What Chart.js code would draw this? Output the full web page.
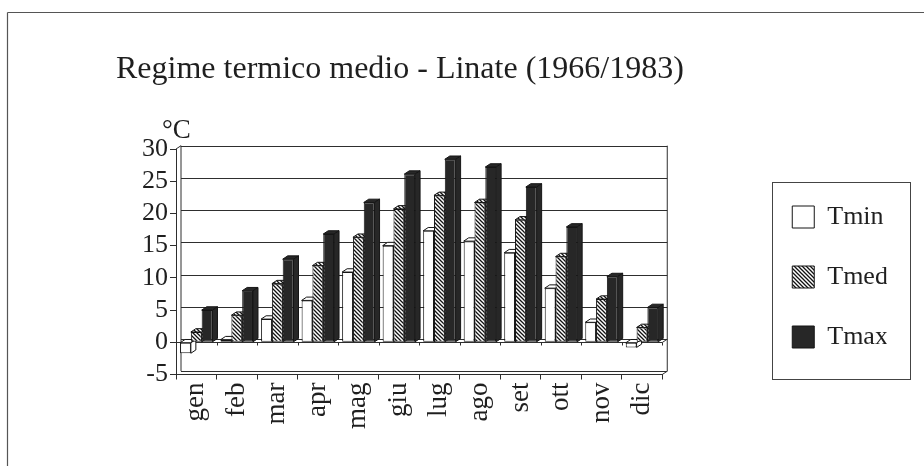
<!DOCTYPE html>
<html>
<head>
<meta charset="utf-8">
<script src="https://cdn.jsdelivr.net/npm/chart.js@4.4.1/dist/chart.umd.min.js"></script>
<style>
  html, body { margin: 0; padding: 0; background: #fff; }
  canvas { display: block; }
</style>
</head>
<body>
<canvas id="c" width="924" height="466"></canvas>
<script>
// Monthly mean temperatures, Linate 1966-1983 (°C)
const months = ['gen', 'feb', 'mar', 'apr', 'mag', 'giu', 'lug', 'ago', 'set', 'ott', 'nov', 'dic'];
const tmin = [-1.7, 0.4, 3.6, 6.5, 10.9, 15.0, 17.3, 15.7, 13.9, 8.4, 3.1, -0.8];
const tmed = [1.6, 4.2, 9.1, 11.9, 16.3, 20.7, 22.8, 21.7, 19.0, 13.3, 6.7, 2.3];
const tmax = [5.0, 8.0, 12.9, 16.8, 21.7, 26.1, 28.4, 27.2, 24.1, 17.9, 10.2, 5.4];
const seriesNames = ['Tmin', 'Tmed', 'Tmax'];
const yTicks = [-5, 0, 5, 10, 15, 20, 25, 30];
const titleText = 'Regime termico medio - Linate (1966/1983)';
const unitText = '°C';

const SERIF = "'Liberation Serif', 'Times New Roman', Times, serif";
const INK = '#1f1f1f';
const LINE = '#2e2e2e';
const DARK = '#272727';
const DX = 5, DY = 3.3;            // depth offset of the pseudo-3D boxes
const LEGEND_TOP_GAP = 170;        // empty space above the first legend entry
const LEGEND_ROW_PAD = 34;

const canvas = document.getElementById('c');
const ctx0 = canvas.getContext('2d');

// diagonal hatching for the mean series
function makeHatch(ctx) {
  const t = document.createElement('canvas');
  t.width = 4; t.height = 4;
  const g = t.getContext('2d');
  g.fillStyle = '#fff';
  g.fillRect(0, 0, 4, 4);
  g.strokeStyle = '#111';
  g.lineWidth = 1.3;
  g.beginPath();
  g.moveTo(-1, -1); g.lineTo(5, 5);
  g.moveTo(-1, 3); g.lineTo(1, 5);
  g.moveTo(3, -1); g.lineTo(5, 1);
  g.stroke();
  return ctx.createPattern(t, 'repeat');
}

const fills = ['#ffffff', makeHatch(ctx0), DARK];
const seriesValues = [tmin, tmed, tmax];

function seg(ctx, x1, y1, x2, y2) {
  ctx.beginPath(); ctx.moveTo(x1, y1); ctx.lineTo(x2, y2); ctx.stroke();
}
function poly(ctx, pts) {
  ctx.beginPath();
  ctx.moveTo(pts[0][0], pts[0][1]);
  for (let i = 1; i < pts.length; i++) ctx.lineTo(pts[i][0], pts[i][1]);
  ctx.closePath();
  ctx.fill();
  ctx.stroke();
}

// page frame and the unit label
const framePlugin = {
  id: 'frame',
  beforeDraw(chart) {
    const ctx = chart.ctx;
    ctx.save();
    ctx.fillStyle = '#fff';
    ctx.fillRect(0, 0, chart.width, chart.height);
    ctx.strokeStyle = '#555';
    ctx.lineWidth = 1.2;
    seg(ctx, 7.5, 12.5, chart.width, 12.5);
    seg(ctx, 7.5, 12.5, 7.5, chart.height);
    ctx.restore();
  },
  afterDraw(chart) {
    const ctx = chart.ctx;
    const a = chart.chartArea;
    ctx.save();
    ctx.fillStyle = INK;
    ctx.font = '27px ' + SERIF;
    ctx.textBaseline = 'alphabetic';
    ctx.textAlign = 'left';
    ctx.fillText(unitText, a.left - 14, a.top - 11);
    ctx.restore();
  }
};

// back wall, floor and the top/side faces of every bar
const depthPlugin = {
  id: 'depth',
  beforeDatasetsDraw(chart) {
    const ctx = chart.ctx;
    const a = chart.chartArea;
    const x = chart.scales.x, y = chart.scales.y;
    ctx.save();
    ctx.strokeStyle = LINE;
    ctx.lineWidth = 1;

    yTicks.forEach(v => {
      const py = Math.round(y.getPixelForValue(v) - DY) + 0.5;
      seg(ctx, a.left + DX, py, a.right + DX, py);
    });
    const tb = y.getPixelForValue(y.max) - DY, bb = y.getPixelForValue(y.min) - DY;
    seg(ctx, a.left, a.top, a.left + DX, tb);
    seg(ctx, a.left + DX, tb, a.left + DX, bb);
    seg(ctx, a.right + DX, tb, a.right + DX, bb);
    seg(ctx, a.right + DX, bb, a.right, a.bottom);

    // floor edge at zero with its category ticks
    const y0 = Math.round(y.getPixelForValue(0)) + 0.5;
    seg(ctx, a.left, y0, a.right, y0);
    seg(ctx, a.right, y0, a.right + DX, y0 - DY);
    for (let i = 0; i <= months.length; i++) {
      const xb = Math.round(x.getPixelForValue(i - 0.5)) + 0.5;
      seg(ctx, xb, y0, xb, y0 + 3);
    }

    ctx.strokeStyle = '#151515';
    chart.data.datasets.forEach((ds, i) => {
      const meta = chart.getDatasetMeta(i);
      ctx.fillStyle = ds.backgroundColor;
      meta.data.forEach(bar => {
        const p = bar.getProps(['x', 'y', 'base', 'width'], true);
        const l = p.x - p.width / 2, r = p.x + p.width / 2;
        const top = Math.min(p.y, p.base), bot = Math.max(p.y, p.base);
        poly(ctx, [[l, top], [l + DX, top - DY], [r + DX, top - DY], [r, top]]);
        poly(ctx, [[r, top], [r + DX, top - DY], [r + DX, bot - DY], [r, bot]]);
      });
    });
    ctx.restore();
  }
};

// box drawn round the legend entries
const legendBoxPlugin = {
  id: 'legendBox',
  afterDraw(chart) {
    const lg = chart.legend;
    if (!lg) return;
    const rowsTop = lg.top + LEGEND_TOP_GAP + LEGEND_ROW_PAD;
    const ctx = chart.ctx;
    ctx.save();
    ctx.strokeStyle = '#444';
    ctx.lineWidth = 1;
    ctx.strokeRect(Math.round(lg.left + 14) + 0.5, Math.round(rowsTop - 22.5) + 0.5, 138, 197);
    ctx.restore();
  }
};

new Chart(ctx0, {
  type: 'bar',
  data: {
    labels: months,
    datasets: seriesValues.map((vals, i) => ({
      label: seriesNames[i],
      data: vals,
      backgroundColor: fills[i],
      borderColor: '#151515',
      borderWidth: 1,
      borderSkipped: false,
      xAxisID: 'x',
      yAxisID: 'y',
      categoryPercentage: 0.8,
      barPercentage: 1.0
    }))
  },
  options: {
    responsive: false,
    animation: false,
    layout: { padding: { left: 116, right: 37.3, top: 0, bottom: 16.5 } },
    scales: {
      x: {
        ticks: {
          color: INK,
          font: { family: SERIF, size: 27 },
          minRotation: 90,
          maxRotation: 90,
          autoSkip: false,
          padding: 3
        },
        grid: { offset: true, drawOnChartArea: false, tickLength: 5, color: LINE },
        border: { color: LINE, width: 1 },
        afterFit(s) { s.height = 75; }
      },
      y: {
        min: -5,
        max: 30,
        afterBuildTicks(s) { s.ticks = yTicks.map(v => ({ value: v })); },
        ticks: { color: INK, font: { family: SERIF, size: 26 }, padding: 2, autoSkip: false },
        grid: { drawOnChartArea: false, tickLength: 6, color: LINE },
        border: { color: LINE, width: 1 },
        afterFit(s) { s.width = 60; }
      },
      gap: {
        type: 'linear',
        position: 'right',
        display: true,
        grid: { display: false },
        ticks: { display: false },
        border: { display: false },
        afterFit(s) { s.width = 96; }
      }
    },
    plugins: {
      title: {
        display: true,
        text: titleText,
        align: 'start',
        color: INK,
        font: { family: SERIF, size: 32, weight: 'normal' },
        padding: { top: 50.8, bottom: 59.8 }
      },
      legend: {
        position: 'right',
        align: 'start',
        fullSize: true,
        title: {
          display: true,
          text: '',
          font: { size: 10 },
          padding: { top: LEGEND_TOP_GAP - 12, bottom: 0 }
        },
        labels: {
          boxWidth: 22,
          boxHeight: 22,
          padding: LEGEND_ROW_PAD,
          color: INK,
          font: { family: SERIF, size: 26 }
        }
      },
      tooltip: { enabled: false }
    }
  },
  plugins: [framePlugin, depthPlugin, legendBoxPlugin]
});
</script>
</body>
</html>
